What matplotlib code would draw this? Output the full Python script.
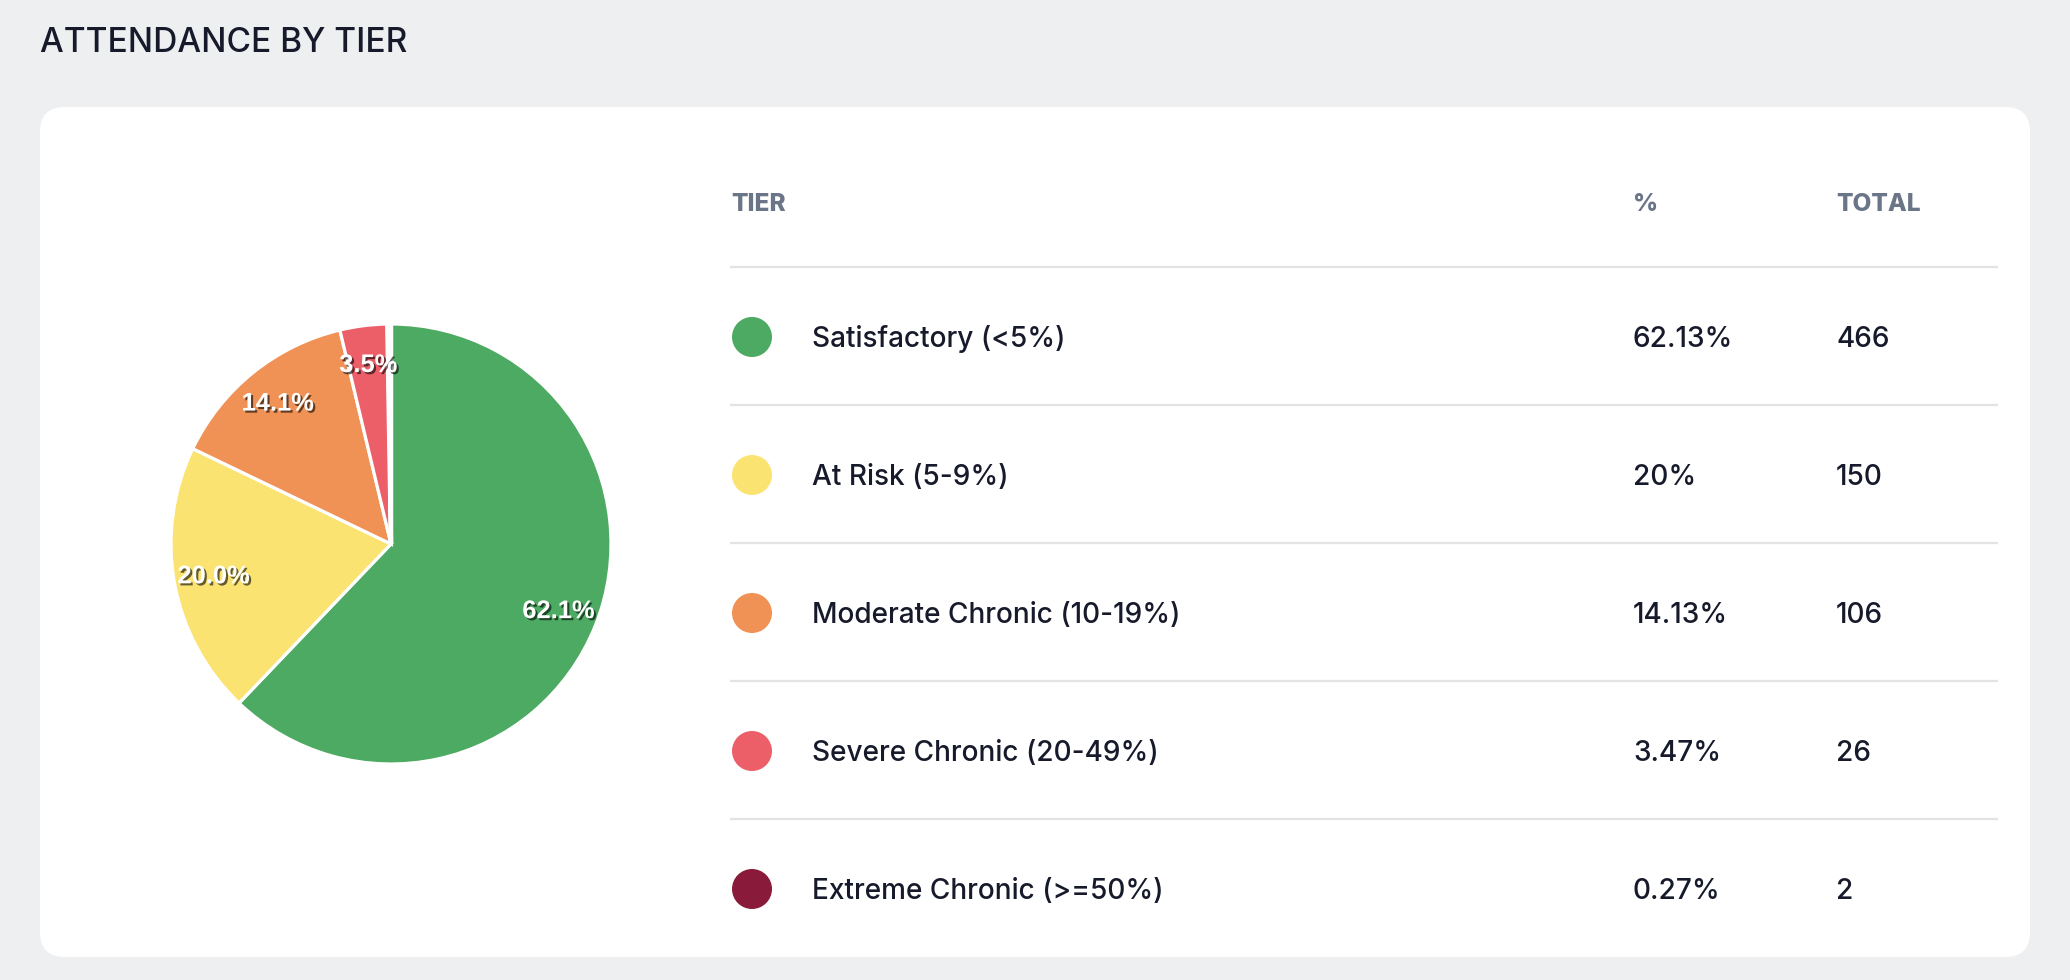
import matplotlib
matplotlib.use("Agg")
import matplotlib.pyplot as plt
import matplotlib.patheffects as pe
from matplotlib.patches import FancyBboxPatch, Circle

tiers = [
    "Satisfactory (<5%)",
    "At Risk (5-9%)",
    "Moderate Chronic (10-19%)",
    "Severe Chronic (20-49%)",
    "Extreme Chronic (>=50%)",
]
totals = [466, 150, 106, 26, 2]
colors = ["#4daa62", "#fbe372", "#f09256", "#ec5f68", "#8a1a3a"]

W, H = 2070, 980
DPI = 100
FONT = "Inter"
TEXT_COLOR = "#161a2b"
HEAD_COLOR = "#6b7588"


def px(p):
    # pixels -> points
    return p * 72 / DPI


grand = sum(totals)
pct = [t / grand * 100 for t in totals]
pct_labels = ["{:g}%".format(round(p, 2)) for p in pct]

fig = plt.figure(figsize=(W / DPI, H / DPI), dpi=DPI)
fig.patch.set_facecolor("#eeeff1")

bg = fig.add_axes([0, 0, 1, 1])
bg.set_xlim(0, W)
bg.set_ylim(H, 0)
bg.axis("off")

card = FancyBboxPatch((40, 107), 1990, 850,
                      boxstyle="round,pad=0,rounding_size=25",
                      facecolor="white", edgecolor="none")
bg.add_patch(card)

bg.text(40, 52, "ATTENDANCE BY TIER", fontsize=px(33.5), family=FONT,
        weight="medium", color=TEXT_COLOR, va="baseline", ha="left")

# table header
head_y = 202
for x, s in [(731, "TIER"), (1633, "%"), (1836, "TOTAL")]:
    bg.text(x, head_y + 8.5, s, fontsize=px(24.5), family=FONT, weight="heavy",
            color=HEAD_COLOR, va="baseline", ha="left")

row_y = [337 + 138 * i for i in range(len(tiers))]
for i, y in enumerate(row_y):
    bg.plot([730, 1998], [y - 70, y - 70], color="#e3e3e6", lw=1.6,
            solid_capstyle="butt")
    bg.add_patch(Circle((752, y), 20, facecolor=colors[i], edgecolor="none"))
    base = y + 10
    for x, s in [(812, tiers[i]), (1633, pct_labels[i]), (1836, str(totals[i]))]:
        bg.text(x, base, s, fontsize=px(28), family=FONT, weight="medium",
                color=TEXT_COLOR, va="baseline", ha="left")

# pie
cx, cy, r = 391, 544, 220
pie_ax = fig.add_axes([(cx - r) / W, (H - cy - r) / H, 2 * r / W, 2 * r / H])


def autopct(p):
    return "{:.1f}%".format(p) if p >= 1 else ""


wedges, _, autotexts = pie_ax.pie(
    totals, colors=colors, startangle=90, counterclock=False,
    autopct=autopct, pctdistance=0.82,
    wedgeprops=dict(edgecolor="white", linewidth=2.3),
)
# the tiny extreme slice is hidden under its white border, as in the dashboard
wedges[-1].set_linewidth(3.2)
for t in autotexts:
    t.set_color("white")
    t.set_fontsize(px(25.5))
    t.set_family("Liberation Sans")
    t.set_weight("bold")
    t.set_path_effects([pe.SimplePatchShadow(offset=(1.5, -1.5),
                                             shadow_rgbFace="black", alpha=0.6),
                        pe.Normal()])
pie_ax.set_xlim(-1, 1)
pie_ax.set_ylim(-1, 1)

fig.savefig("out.png", dpi=DPI, facecolor=fig.get_facecolor())
